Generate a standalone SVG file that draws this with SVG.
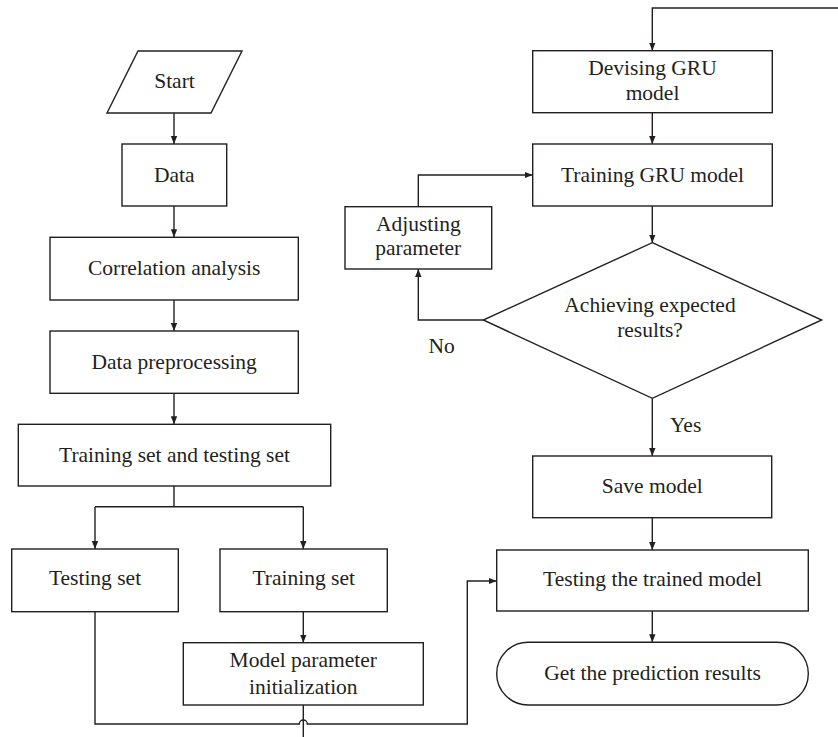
<svg xmlns="http://www.w3.org/2000/svg" width="838" height="737" viewBox="0 0 838 737">
<style>
.n{fill:#fff;stroke:#231f20;stroke-width:1.4}
.c{fill:none;stroke:#231f20;stroke-width:1.4}
text{font-family:"Liberation Serif","Times New Roman",serif;font-size:21.5px;fill:#231f20;text-anchor:middle}
.l{text-anchor:start}
</style>
<defs>
<marker id="a" markerUnits="userSpaceOnUse" markerWidth="8" markerHeight="8" refX="8" refY="4" orient="auto">
<path d="M0,0.8 L8,4 L0,7.2 z" fill="#231f20"/>
</marker>
</defs>
<rect width="838" height="737" fill="#fff"/>
<g id="connectors">
<path class="c" d="M174,113 V144" marker-end="url(#a)"/>
<path class="c" d="M174,206 V237.3" marker-end="url(#a)"/>
<path class="c" d="M174,300 V331" marker-end="url(#a)"/>
<path class="c" d="M174,393.3 V424.3" marker-end="url(#a)"/>
<path class="c" d="M174,486 V506.7 M95,506.7 H303.3"/>
<path class="c" d="M95,506.7 V549" marker-end="url(#a)"/>
<path class="c" d="M303.3,506.7 V549" marker-end="url(#a)"/>
<path class="c" d="M303.3,611.7 V642.7" marker-end="url(#a)"/>
<path class="c" d="M303.3,705 V737"/>
<path class="c" d="M95,611.7 V724 H299.3 A4,4 0 0 1 307.3,724 H467.3 V581 H496.7" marker-end="url(#a)"/>
<path class="c" d="M838,8 H652.3 V50.7" marker-end="url(#a)"/>
<path class="c" d="M652.3,112.7 V144" marker-end="url(#a)"/>
<path class="c" d="M652.3,206 V242.7" marker-end="url(#a)"/>
<path class="c" d="M418.3,206.7 V175 H532.7" marker-end="url(#a)"/>
<path class="c" d="M483.3,320 H418.3 V269" marker-end="url(#a)"/>
<path class="c" d="M652.3,398.3 V456" marker-end="url(#a)"/>
<path class="c" d="M652.3,517.7 V550" marker-end="url(#a)"/>
<path class="c" d="M652.3,611 V642.3" marker-end="url(#a)"/>
<text x="441.7" y="353.3">No</text>
<text class="l" x="670" y="431.7">Yes</text>
</g>
<g id="start">
<polygon class="n" points="138,51 242,51 211,113 107,113"/>
<text x="174.5" y="88">Start</text>
</g>
<g id="data">
<rect class="n" x="122" y="144" width="104.7" height="62"/>
<text x="174.3" y="181.5">Data</text>
</g>
<g id="correlation">
<rect class="n" x="50" y="237.3" width="248.3" height="62.7"/>
<text x="174.2" y="275">Correlation analysis</text>
</g>
<g id="preprocessing">
<rect class="n" x="50" y="331" width="248.3" height="62.3"/>
<text x="174.2" y="368.5">Data preprocessing</text>
</g>
<g id="sets">
<rect class="n" x="18.3" y="424.3" width="312.4" height="61.7"/>
<text x="174.5" y="462">Training set and testing set</text>
</g>
<g id="testing-set">
<rect class="n" x="11.7" y="549" width="166.6" height="62.7"/>
<text x="95" y="585">Testing set</text>
</g>
<g id="training-set">
<rect class="n" x="220" y="549" width="167.3" height="62.7"/>
<text x="303.7" y="585">Training set</text>
</g>
<g id="init">
<rect class="n" x="183.3" y="642.7" width="240" height="62.3"/>
<text x="303.3" y="666.5">Model parameter</text>
<text x="303.3" y="693.5">initialization</text>
</g>
<g id="devising">
<rect class="n" x="532.7" y="50.7" width="239.6" height="62"/>
<text x="652.5" y="75">Devising GRU</text>
<text x="652.5" y="100">model</text>
</g>
<g id="training-gru">
<rect class="n" x="532.7" y="144" width="239.6" height="62"/>
<text x="652.5" y="181.5">Training GRU model</text>
</g>
<g id="adjusting">
<rect class="n" x="345" y="206.7" width="146.7" height="62.3"/>
<text x="418.3" y="231">Adjusting</text>
<text x="418.3" y="255">parameter</text>
</g>
<g id="decision">
<polygon class="n" points="652.3,242.7 821.7,320 652.3,398.3 483.3,320"/>
<text x="650" y="311.5">Achieving expected</text>
<text x="650" y="337">results?</text>
</g>
<g id="save">
<rect class="n" x="532.7" y="456" width="239" height="61.7"/>
<text x="652.3" y="493">Save model</text>
</g>
<g id="testing-model">
<rect class="n" x="496.7" y="550" width="311.6" height="61"/>
<text x="652.5" y="585.5">Testing the trained model</text>
</g>
<g id="result">
<rect class="n" x="496.7" y="642.3" width="311.6" height="62.7" rx="31.3" ry="31.3"/>
<text x="652.5" y="679.5">Get the prediction results</text>
</g>
</svg>
